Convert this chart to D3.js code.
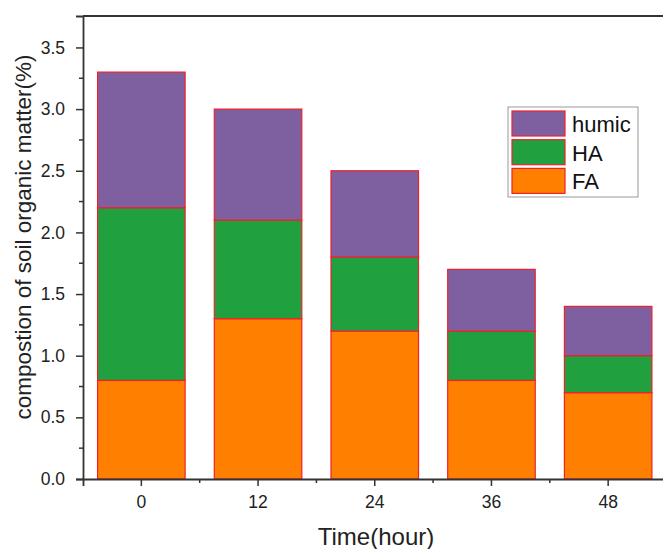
<!DOCTYPE html>
<html>
<head>
<meta charset="utf-8">
<script src="https://cdn.jsdelivr.net/npm/d3@7"></script>
<style>
  body { margin: 0; background: #fff; }
  svg { font-family: "Liberation Sans", Arial, sans-serif; }
</style>
</head>
<body>
<svg id="chart" width="663" height="549"></svg>
<script>
// data
const hours = ["0", "12", "24", "36", "48"];
const fa = [0.8, 1.3, 1.2, 0.8, 0.7];
const ha = [1.4, 0.8, 0.6, 0.4, 0.3];
const humic = [1.1, 0.9, 0.7, 0.5, 0.4];
const seriesNames = ["FA", "HA", "humic"];
const yTicks = [0, 0.5, 1, 1.5, 2, 2.5, 3, 3.5];

const colors = { FA: "#ff8000", HA: "#21a040", humic: "#7e60a0" };

const rows = hours.map((h, i) => ({ hour: h, FA: fa[i], HA: ha[i], humic: humic[i] }));
const stacked = d3.stack().keys(seriesNames)(rows);

const margin = { left: 83, top: 16, bottom: 70 };
const W = 663, H = 549;
const innerRight = 666.5;

const svg = d3.select("#chart");

const x = d3.scaleBand()
    .domain(hours)
    .range([margin.left, innerRight])
    .paddingInner(0.25)
    .paddingOuter(0.125);

const y = d3.scaleLinear()
    .domain([0, 3.755])
    .range([H - margin.bottom, margin.top]);

// bars
svg.append("g")
    .selectAll("g")
    .data(stacked)
    .join("g")
    .attr("fill", d => colors[d.key])
    .selectAll("rect")
    .data(d => d)
    .join("rect")
    .attr("x", d => x(d.data.hour))
    .attr("width", x.bandwidth())
    .attr("y", d => y(d[1]))
    .attr("height", d => y(d[0]) - y(d[1]))
    .attr("stroke", "#f0202a")
    .attr("stroke-width", 1.2);

// top frame
svg.append("line")
    .attr("x1", margin.left).attr("x2", W)
    .attr("y1", margin.top).attr("y2", margin.top)
    .attr("stroke", "#333").attr("stroke-width", 1.8);

// y axis
const yAxis = svg.append("g")
    .attr("transform", `translate(${margin.left},0)`)
    .call(d3.axisLeft(y).tickValues(yTicks).tickFormat(d3.format(".1f")).tickSize(7).tickPadding(11));
yAxis.select(".domain").attr("stroke", "#333").attr("stroke-width", 1.8);
yAxis.selectAll(".tick line").attr("stroke", "#333").attr("stroke-width", 1.5);
yAxis.selectAll("text").attr("font-size", 17.5).attr("fill", "#222");
yAxis.selectAll(".minor")
    .data(d3.range(0.25, 3.75, 0.5))
    .join("line")
    .attr("class", "minor")
    .attr("x1", 0).attr("x2", -4)
    .attr("y1", d => y(d)).attr("y2", d => y(d))
    .attr("stroke", "#333").attr("stroke-width", 1.5);

// x axis
const xAxis = svg.append("g")
    .attr("transform", `translate(0,${y(0)})`)
    .call(d3.axisBottom(x).tickSize(7).tickPadding(10));
xAxis.select(".domain").attr("stroke", "#333").attr("stroke-width", 1.8);
xAxis.selectAll(".tick line").attr("stroke", "#333").attr("stroke-width", 1.5);
xAxis.selectAll("text").attr("font-size", 17.5).attr("fill", "#222");
xAxis.selectAll(".minor")
    .data(hours.slice(1))
    .join("line")
    .attr("class", "minor")
    .attr("x1", d => x(d) - x.step() * 0.125)
    .attr("x2", d => x(d) - x.step() * 0.125)
    .attr("y1", 0).attr("y2", 4)
    .attr("stroke", "#333").attr("stroke-width", 1.5);

// axis titles
svg.append("text")
    .attr("x", 376).attr("y", 545)
    .attr("text-anchor", "middle")
    .attr("font-size", 24)
    .attr("fill", "#222")
    .text("Time(hour)");

svg.append("text")
    .attr("transform", `translate(31,237) rotate(-90)`)
    .attr("text-anchor", "middle")
    .attr("font-size", 22.5)
    .attr("fill", "#222")
    .text("compostion of soil organic matter(%)");

// legend
const legend = svg.append("g").attr("transform", "translate(508,107)");
legend.append("rect")
    .attr("width", 130).attr("height", 90)
    .attr("fill", "#fff").attr("stroke", "#999").attr("stroke-width", 1);
const legendItems = ["humic", "HA", "FA"];
const li = legend.selectAll("g.item")
    .data(legendItems)
    .join("g")
    .attr("class", "item")
    .attr("transform", (d, i) => `translate(4,${4 + i * 28.7})`);
li.append("rect")
    .attr("width", 53).attr("height", 25)
    .attr("fill", d => colors[d])
    .attr("stroke", "#f0202a").attr("stroke-width", 1.2);
li.append("text")
    .attr("x", 60).attr("y", 21)
    .attr("font-size", 22)
    .attr("fill", "#111")
    .text(d => d);
</script>
</body>
</html>
